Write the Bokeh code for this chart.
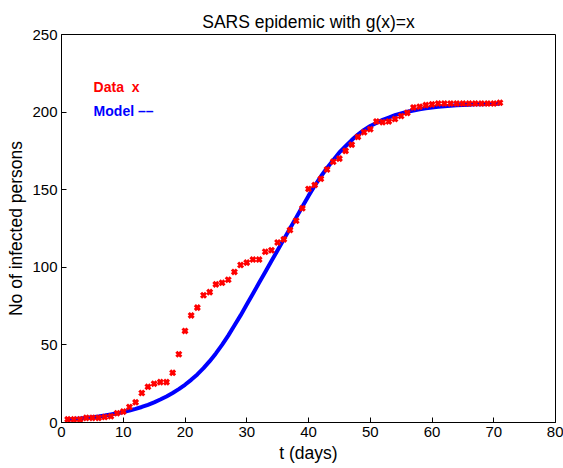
from bokeh.plotting import figure
from bokeh.models import Range1d, FixedTicker, Label
from bokeh.embed import file_html
from bokeh.resources import INLINE

days = list(range(1, 72))
data_infected = [2, 2, 2, 3, 3, 3, 3.5, 4, 6, 7,
                 10, 13, 19, 23, 25, 26, 26, 32, 44, 59,
                 69, 74, 82, 84, 89, 90, 92, 97, 101.5, 103,
                 105, 105, 110, 111, 116, 118, 124, 130, 138, 150.5,
                 153, 157, 163, 168, 170, 175, 179, 184, 187, 189,
                 194, 193.5, 194, 195.5, 197.5, 199.5, 203, 203.5, 204.5, 205,
                 205.5, 205.5, 205.5, 205.5, 205.5, 205.5, 205.5, 205.5, 205.5, 205.5,
                 206]
model_infected = [2, 2.3, 2.6, 3, 3.4, 3.9, 4.5, 5.2, 5.9, 6.7,
                  7.7, 8.8, 10, 11.4, 13, 14.8, 16.8, 19, 21.5, 24.3,
                  27.5, 31, 35, 39.5, 44.5, 50, 56, 62.5, 69, 76,
                  83, 90, 97, 104, 111, 118, 125, 132, 139, 146,
                  152.5, 158.5, 164, 169, 174, 178, 182, 185.5, 188.5, 191,
                  193, 195, 196.5, 198, 199.2, 200.2, 201, 201.8, 202.4, 203,
                  203.4, 203.8, 204.1, 204.4, 204.6, 204.8, 205, 205.1, 205.2, 205.3,
                  205.4]
x_ticks = [0, 10, 20, 30, 40, 50, 60, 70, 80]
y_ticks = [0, 50, 100, 150, 200, 250]

FONT = "Liberation Sans"

p = figure(width=563, height=468, output_backend="svg", toolbar_location=None,
           x_range=Range1d(0, 80), y_range=Range1d(0, 250),
           title="SARS epidemic with g(x)=x",
           x_axis_label="t (days)", y_axis_label="No of infected persons",
           min_border_left=61, min_border_right=8, min_border_top=34, min_border_bottom=46)

p.title.align = "center"
p.title.text_font = FONT
p.title.text_font_size = "17.5px"
p.title.text_font_style = "normal"
p.title.text_color = "black"
p.title.offset = 0
p.title.standoff = 6

p.xgrid.visible = False
p.ygrid.visible = False
p.outline_line_color = "black"
p.outline_line_width = 1
p.outline_line_alpha = 1

for ax in (p.xaxis[0], p.yaxis[0]):
    ax.major_tick_in = 5
    ax.major_tick_out = 0
    ax.minor_tick_line_color = None
    ax.axis_line_color = "black"
    ax.major_tick_line_color = "black"
    ax.major_label_text_font = FONT
    ax.major_label_text_font_size = "15px"
    ax.major_label_text_color = "black"
    ax.axis_label_text_font = FONT
    ax.axis_label_text_font_size = "17.5px"
    ax.axis_label_text_font_style = "normal"
    ax.axis_label_text_color = "black"
    ax.major_label_standoff = 4
    ax.axis_label_standoff = 3

p.xaxis[0].ticker = FixedTicker(ticks=x_ticks)
p.yaxis[0].ticker = FixedTicker(ticks=y_ticks)

p.line(days, model_infected, line_color="blue", line_width=4)
p.scatter(days, data_infected, marker="x", size=7, line_color="red", line_width=3)

p.add_layout(Label(x=5.2, y=216, text="Data\u00a0\u00a0x", text_color="red", text_font=FONT,
                   text_font_size="14px", text_font_style="bold", text_baseline="middle"))
p.add_layout(Label(x=5.2, y=201, text="Model \u2013\u2013", text_color="blue", text_font=FONT,
                   text_font_size="14px", text_font_style="bold", text_baseline="middle"))

open("out.html", "w").write(file_html(p, INLINE))
